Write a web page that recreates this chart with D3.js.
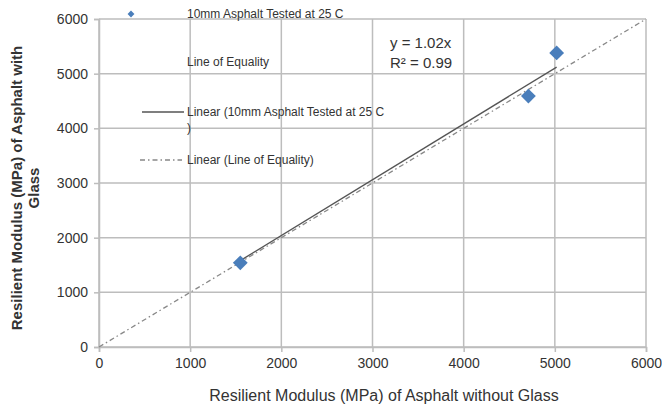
<!DOCTYPE html>
<html>
<head>
<meta charset="utf-8">
<script src="https://cdn.jsdelivr.net/npm/d3@7"></script>
<style>
  body { margin: 0; background: #fff; }
  text { font-family: "Liberation Sans", sans-serif; fill: #333; }
</style>
</head>
<body>
<div id="container"></div>
<script>
const xValues = [1550, 4710, 5020];
const yValues = [1540, 4590, 5380];
const trendSlope = 1.02;
const rSquared = 0.99;
const equalityLine = [0, 6000];
const tickValues = [0, 1000, 2000, 3000, 4000, 5000, 6000];

const seriesName = '10mm Asphalt Tested at 25 C';
const legendItems = [
  { label: seriesName, kind: 'marker' },
  { label: 'Line of Equality', kind: 'none' },
  { label: 'Linear (10mm Asphalt Tested at 25 C', label2: ')', kind: 'solid' },
  { label: 'Linear (Line of Equality)', kind: 'dashdot' }
];

const width = 662;
const height = 410;
const margin = { left: 99, right: 16, top: 19, bottom: 63 };

const data = xValues.map((x, i) => ({ x, y: yValues[i] }));

const xScale = d3.scaleLinear().domain([0, 6000]).range([margin.left, width - margin.right]);
const yScale = d3.scaleLinear().domain([0, 6000]).range([height - margin.bottom, margin.top]);

const svg = d3.select('#container').append('svg')
  .attr('width', width)
  .attr('height', height);

// gridlines
svg.append('g')
  .selectAll('line')
  .data(tickValues)
  .enter().append('line')
  .attr('x1', d => xScale(d)).attr('x2', d => xScale(d))
  .attr('y1', yScale(0)).attr('y2', yScale(6000))
  .attr('stroke', '#bdbdbd').attr('stroke-width', 1.5);

svg.append('g')
  .selectAll('line')
  .data(tickValues)
  .enter().append('line')
  .attr('y1', d => yScale(d)).attr('y2', d => yScale(d))
  .attr('x1', xScale(0)).attr('x2', xScale(6000))
  .attr('stroke', '#bdbdbd').attr('stroke-width', 1.5);

// axes (labels only)
const xAxis = d3.axisBottom(xScale).tickValues(tickValues).tickFormat(d3.format('d')).tickSize(5).tickPadding(6);
const yAxis = d3.axisLeft(yScale).tickValues(tickValues).tickFormat(d3.format('d')).tickSize(5).tickPadding(6);

const gx = svg.append('g')
  .attr('transform', `translate(0, ${yScale(0)})`)
  .call(xAxis);
const gy = svg.append('g')
  .attr('transform', `translate(${xScale(0)}, 0)`)
  .call(yAxis);
[gx, gy].forEach(g => {
  g.select('.domain').attr('stroke', '#bdbdbd').attr('stroke-width', 1.5);
  g.selectAll('.tick line').attr('stroke', '#bdbdbd').attr('stroke-width', 1.5);
  g.selectAll('.tick text').attr('font-size', 14).attr('fill', '#333')
    .attr('font-family', '"Liberation Sans", sans-serif');
});

// line of equality
const line = d3.line().x(d => xScale(d[0])).y(d => yScale(d[1]));
svg.append('path')
  .attr('d', line(equalityLine.map(v => [v, v])))
  .attr('fill', 'none')
  .attr('stroke', '#888')
  .attr('stroke-width', 1.3)
  .attr('stroke-dasharray', '5,3,1.5,3');

// trendline through origin, over data range
const xExt = d3.extent(xValues);
svg.append('path')
  .attr('d', line(xExt.map(x => [x, x * trendSlope])))
  .attr('fill', 'none')
  .attr('stroke', '#555')
  .attr('stroke-width', 1.3);

// markers
const diamond = d3.symbol().type(d3.symbolDiamond2);
svg.append('g')
  .selectAll('path')
  .data(data)
  .enter().append('path')
  .attr('d', diamond.size(140)())
  .attr('transform', d => `translate(${xScale(d.x)}, ${yScale(d.y)})`)
  .attr('fill', '#4a7ebb');

// equation
svg.append('text').attr('x', 390).attr('y', 48).attr('font-size', 15)
  .text(`y = ${trendSlope.toFixed(2)}x`);
svg.append('text').attr('x', 390).attr('y', 68).attr('font-size', 15)
  .text(`R² = ${rSquared.toFixed(2)}`);

// legend
const legendY = [14, 62, 112, 160];
const legend = svg.append('g');
legendItems.forEach((item, i) => {
  const y = legendY[i];
  if (item.kind === 'marker') {
    legend.append('path').attr('d', diamond.size(30)())
      .attr('transform', `translate(131, ${y})`).attr('fill', '#4a7ebb');
  } else if (item.kind === 'solid') {
    legend.append('line').attr('x1', 142).attr('x2', 184).attr('y1', y).attr('y2', y)
      .attr('stroke', '#555').attr('stroke-width', 1.3);
  } else if (item.kind === 'dashdot') {
    legend.append('line').attr('x1', 140).attr('x2', 182).attr('y1', y).attr('y2', y)
      .attr('stroke', '#888').attr('stroke-width', 1.3).attr('stroke-dasharray', '5,3,1.5,3');
  }
  legend.append('text').attr('x', 187).attr('y', y + 4).attr('font-size', 12).text(item.label);
  if (item.label2) {
    legend.append('text').attr('x', 187).attr('y', y + 20).attr('font-size', 12).text(item.label2);
  }
});

// axis titles
svg.append('text')
  .attr('x', 384).attr('y', 401)
  .attr('text-anchor', 'middle').attr('font-size', 16)
  .text('Resilient Modulus (MPa) of Asphalt without Glass');

const yTitle = svg.append('text')
  .attr('transform', `translate(22, 188) rotate(-90)`)
  .attr('text-anchor', 'middle')
  .attr('font-size', 15).attr('font-weight', 'bold')
  .attr('font-family', '"Open Sans", sans-serif')
  .attr('fill', '#222');
yTitle.append('tspan').attr('x', 0).attr('dy', 0).text('Resilient Modulus (MPa) of Asphalt with');
yTitle.append('tspan').attr('x', 0).attr('dy', 17).text('Glass');
</script>
</body>
</html>
